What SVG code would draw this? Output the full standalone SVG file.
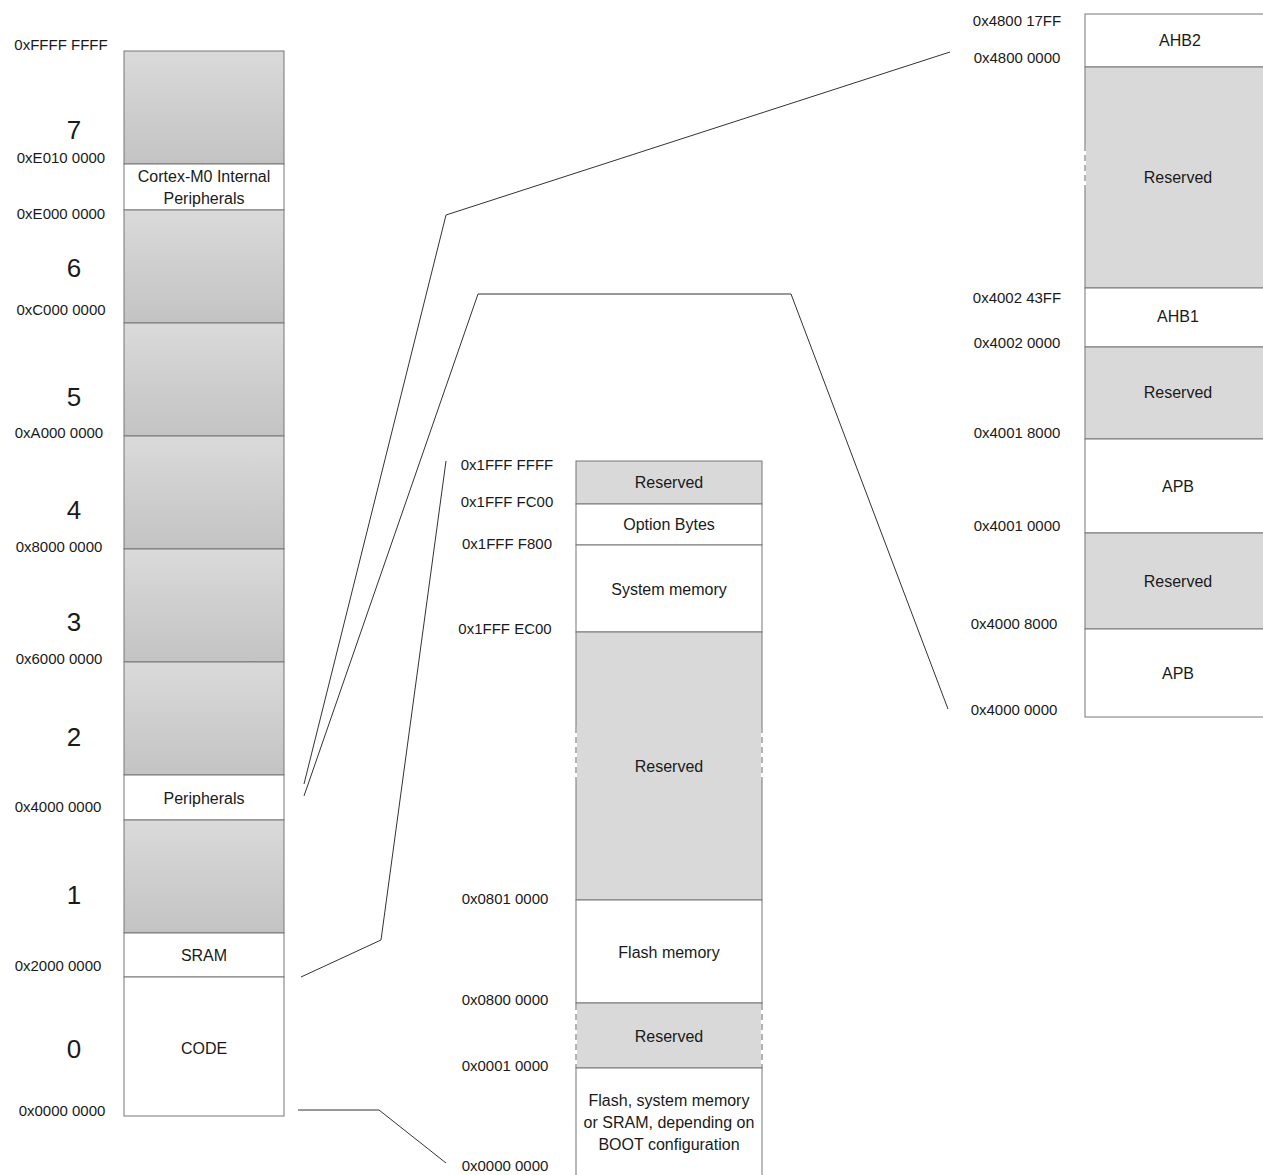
<svg xmlns="http://www.w3.org/2000/svg" width="1263" height="1175" viewBox="0 0 1263 1175">
<style>
text{font-family:"Liberation Sans",Arial,sans-serif;fill:#1a1a1a}
.a{font-size:15px;text-anchor:middle}
.b{font-size:16px;text-anchor:middle}
.n{font-size:26px;text-anchor:middle}
.g{fill:url(#grad);stroke:#777;stroke-width:1}
.w{fill:#fff;stroke:#777;stroke-width:1}
.r{fill:#d9d9d9;stroke:#777;stroke-width:1}
.c{fill:none;stroke:#333;stroke-width:1}
.gap{stroke:#fff;stroke-width:2}
.dash{stroke:#666;stroke-width:1;stroke-dasharray:6,4}
</style>
<defs>
<linearGradient id="grad" x1="0" y1="0" x2="0" y2="1">
<stop offset="0" stop-color="#dadada"/>
<stop offset="1" stop-color="#c3c3c3"/>
</linearGradient>
</defs>
<rect width="1263" height="1175" fill="#fff"/>

<g id="left-column">
<rect class="g" x="124" y="51" width="160" height="113"/>
<rect class="w" x="124" y="164" width="160" height="46"/>
<rect class="g" x="124" y="210" width="160" height="113"/>
<rect class="g" x="124" y="323" width="160" height="113"/>
<rect class="g" x="124" y="436" width="160" height="113"/>
<rect class="g" x="124" y="549" width="160" height="113"/>
<rect class="g" x="124" y="662" width="160" height="113"/>
<rect class="w" x="124" y="775" width="160" height="45"/>
<rect class="g" x="124" y="820" width="160" height="113"/>
<rect class="w" x="124" y="933" width="160" height="44"/>
<rect class="w" x="124" y="977" width="160" height="139"/>
<text class="b" x="204" y="182">Cortex-M0 Internal</text>
<text class="b" x="204" y="204">Peripherals</text>
<text class="b" x="204" y="804">Peripherals</text>
<text class="b" x="204" y="961">SRAM</text>
<text class="b" x="204" y="1054">CODE</text>
</g>

<g id="left-labels">
<text class="a" x="61" y="50">0xFFFF FFFF</text>
<text class="a" x="61" y="163">0xE010 0000</text>
<text class="a" x="61" y="219">0xE000 0000</text>
<text class="a" x="61" y="315">0xC000 0000</text>
<text class="a" x="59" y="438">0xA000 0000</text>
<text class="a" x="59" y="552">0x8000 0000</text>
<text class="a" x="59" y="664">0x6000 0000</text>
<text class="a" x="58" y="812">0x4000 0000</text>
<text class="a" x="58" y="971">0x2000 0000</text>
<text class="a" x="62" y="1116">0x0000 0000</text>
<text class="n" x="74" y="139">7</text>
<text class="n" x="74" y="277">6</text>
<text class="n" x="74" y="406">5</text>
<text class="n" x="74" y="519">4</text>
<text class="n" x="74" y="631">3</text>
<text class="n" x="74" y="746">2</text>
<text class="n" x="74" y="904">1</text>
<text class="n" x="74" y="1058">0</text>
</g>

<g id="code-column">
<rect class="r" x="576" y="461" width="186" height="43"/>
<rect class="w" x="576" y="504" width="186" height="41"/>
<rect class="w" x="576" y="545" width="186" height="87"/>
<rect class="r" x="576" y="632" width="186" height="268"/>
<rect class="w" x="576" y="900" width="186" height="103"/>
<rect class="r" x="576" y="1003" width="186" height="65"/>
<rect class="w" x="576" y="1068" width="186" height="120"/>
<line class="gap" x1="576" y1="727" x2="576" y2="780"/>
<line class="gap" x1="762" y1="727" x2="762" y2="780"/>
<line class="dash" x1="576" y1="727" x2="576" y2="780"/>
<line class="dash" x1="762" y1="727" x2="762" y2="780"/>
<line class="gap" x1="576" y1="1004" x2="576" y2="1067"/>
<line class="gap" x1="762" y1="1004" x2="762" y2="1067"/>
<line class="dash" x1="576" y1="1004" x2="576" y2="1067"/>
<line class="dash" x1="762" y1="1004" x2="762" y2="1067"/>
<text class="b" x="669" y="488">Reserved</text>
<text class="b" x="669" y="530">Option Bytes</text>
<text class="b" x="669" y="595">System memory</text>
<text class="b" x="669" y="772">Reserved</text>
<text class="b" x="669" y="958">Flash memory</text>
<text class="b" x="669" y="1042">Reserved</text>
<text class="b" x="669" y="1106">Flash, system memory</text>
<text class="b" x="669" y="1128">or SRAM, depending on</text>
<text class="b" x="669" y="1150">BOOT configuration</text>
</g>

<g id="code-labels">
<text class="a" x="507" y="470">0x1FFF FFFF</text>
<text class="a" x="507" y="507">0x1FFF FC00</text>
<text class="a" x="507" y="549">0x1FFF F800</text>
<text class="a" x="505" y="634">0x1FFF EC00</text>
<text class="a" x="505" y="904">0x0801 0000</text>
<text class="a" x="505" y="1005">0x0800 0000</text>
<text class="a" x="505" y="1071">0x0001 0000</text>
<text class="a" x="505" y="1171">0x0000 0000</text>
</g>

<g id="periph-column">
<rect class="w" x="1085" y="14" width="186" height="53"/>
<rect class="r" x="1085" y="67" width="186" height="221"/>
<rect class="w" x="1085" y="288" width="186" height="59"/>
<rect class="r" x="1085" y="347" width="186" height="92"/>
<rect class="w" x="1085" y="439" width="186" height="94"/>
<rect class="r" x="1085" y="533" width="186" height="96"/>
<rect class="w" x="1085" y="629" width="186" height="88"/>
<line class="gap" x1="1085" y1="145" x2="1085" y2="188"/>
<line class="dash" x1="1085" y1="145" x2="1085" y2="188"/>
<text class="b" x="1180" y="46">AHB2</text>
<text class="b" x="1178" y="183">Reserved</text>
<text class="b" x="1178" y="322">AHB1</text>
<text class="b" x="1178" y="398">Reserved</text>
<text class="b" x="1178" y="492">APB</text>
<text class="b" x="1178" y="587">Reserved</text>
<text class="b" x="1178" y="679">APB</text>
</g>

<g id="periph-labels">
<text class="a" x="1017" y="26">0x4800 17FF</text>
<text class="a" x="1017" y="63">0x4800 0000</text>
<text class="a" x="1017" y="303">0x4002 43FF</text>
<text class="a" x="1017" y="348">0x4002 0000</text>
<text class="a" x="1017" y="438">0x4001 8000</text>
<text class="a" x="1017" y="531">0x4001 0000</text>
<text class="a" x="1014" y="629">0x4000 8000</text>
<text class="a" x="1014" y="715">0x4000 0000</text>
</g>

<g id="connectors">
<polyline class="c" points="304,784 446,215 950,52"/>
<polyline class="c" points="304,796 478,294 791,294 948,709"/>
<polyline class="c" points="301,977 381,940 446,461"/>
<polyline class="c" points="298,1110 379,1110 446,1163"/>
</g>
</svg>
